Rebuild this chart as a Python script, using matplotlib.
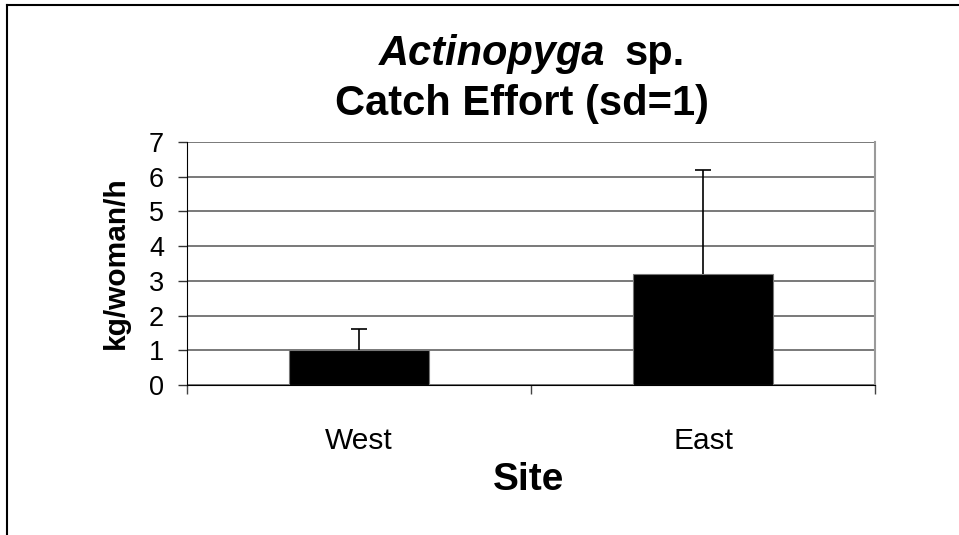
import matplotlib
matplotlib.use("Agg")
import matplotlib.pyplot as plt
from matplotlib.lines import Line2D

plt.rcParams['font.family'] = ['Liberation Sans', 'DejaVu Sans']

sites = ['West', 'East']
catch = [1.0, 3.2]
sd = [0.6, 3.0]
yticks = [0, 1, 2, 3, 4, 5, 6, 7]

W, H = 959, 535
fig = plt.figure(figsize=(W / 100, H / 100), dpi=100)

# plot area placed in pixels
left, right, top, bottom = 187, 875, 142, 385
ax = fig.add_axes([left / W, 1 - bottom / H, (right - left) / W, (bottom - top) / H])

x = range(len(sites))
ax.bar(x, catch, width=0.407, color='black', edgecolor='#777777', linewidth=0.8, zorder=3)
eb = ax.errorbar(x, catch, yerr=[[0] * len(sd), sd], fmt='none', ecolor='black',
                 elinewidth=1.2, capsize=5.5, capthick=1.2, zorder=4)
# only the upper cap, like Excel's "plus" error bars
eb[1][0].set_visible(False)

ax.set_xlim(-0.5, len(sites) - 0.5)
ax.set_ylim(0, 7)
ax.set_yticks(yticks)
ax.yaxis.grid(True, color='#555555', linewidth=1.1, zorder=0)
ax.set_axisbelow(True)

ax.tick_params(axis='y', direction='out', length=6.5, width=1, color='#333333',
               labelsize=19.5, pad=10)
ax.set_xticks(list(x))
ax.set_xticklabels(sites)
ax.tick_params(axis='x', which='major', length=0, labelsize=21.5, pad=30)
ax.set_xticks([-0.5, 0.5, 1.5], minor=True)
ax.tick_params(axis='x', which='minor', direction='out', length=6.5, width=1, color='#444444')

ax.spines['top'].set_visible(False)
ax.spines['right'].set_color('#9a9a9a')
ax.spines['right'].set_linewidth(1.5)
ax.spines['left'].set_color('black')
ax.spines['bottom'].set_color('black')

# titles
fig.text(605 / W, 1 - 65 / H, 'Actinopyga', fontsize=30, fontweight='bold',
         style='italic', ha='right', va='baseline')
fig.text(624 / W, 1 - 65 / H, 'sp.', fontsize=30, fontweight='bold',
         ha='left', va='baseline')
fig.text(522 / W, 1 - 115 / H, 'Catch Effort (sd=1)', fontsize=30, fontweight='bold',
         ha='center', va='baseline')

fig.text(116 / W, 1 - 263 / H, 'kg/woman/h', fontsize=21.5, fontweight='bold',
         rotation=90, ha='center', va='center')
fig.text(529 / W, 1 - 490 / H, 'Site', fontsize=28, fontweight='bold',
         ha='center', va='baseline')

# chart frame (cropped on right and bottom)
fig.add_artist(Line2D([7 / W, 7 / W], [0, 1 - 5 / H], color='black', linewidth=1.5))
fig.add_artist(Line2D([7 / W, 1], [1 - 5 / H, 1 - 5 / H], color='black', linewidth=1.5))

fig.savefig('out.png', dpi=100)
